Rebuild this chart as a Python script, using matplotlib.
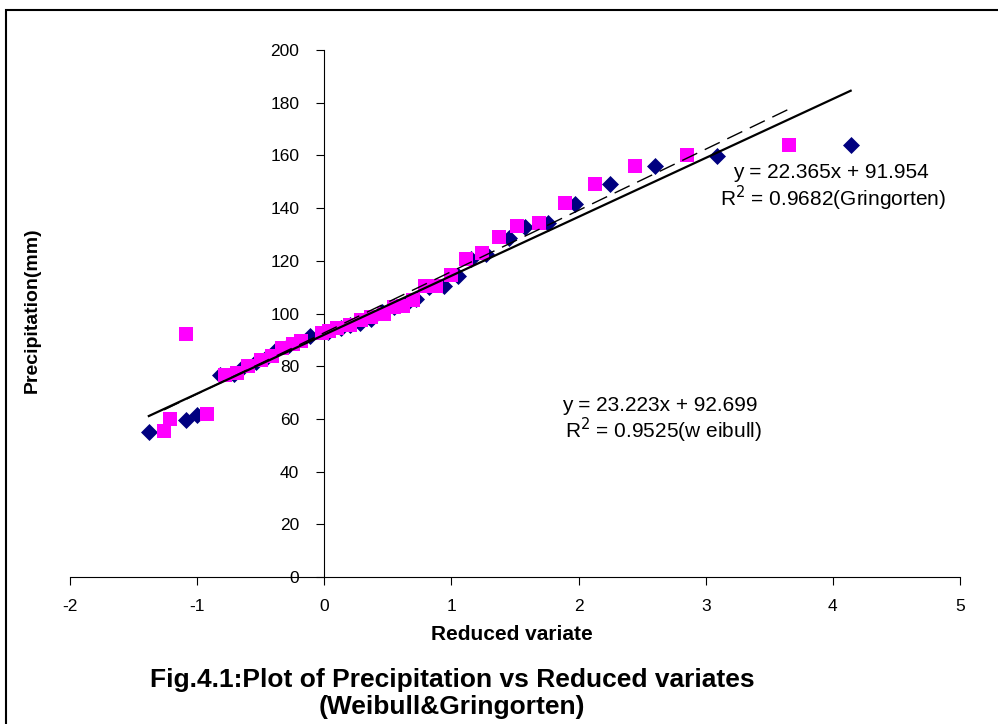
import matplotlib
matplotlib.use("Agg")
import matplotlib.pyplot as plt
from matplotlib.patches import Rectangle
import numpy as np

plt.rcParams['font.family'] = ['Liberation Sans', 'DejaVu Sans']
plt.rcParams['axes.unicode_minus'] = False

# reduced variate / precipitation pairs
x_diamond = [-1.38, -1.085, -1.0, -0.82, -0.71, -0.65, -0.54, -0.45, -0.37, -0.28,
             -0.11, 0.03, 0.13, 0.2, 0.28, 0.37, 0.45, 0.55, 0.64, 0.72,
             0.82, 0.94, 1.05, 1.15, 1.27, 1.455, 1.58, 1.76, 1.97, 2.25,
             2.6, 3.09, 4.14]
y_diamond = [55.0, 59.5, 61.5, 76.5, 77.0, 79.5, 81.5, 83.5, 86.5, 88.0,
             91.5, 93.0, 94.5, 95.5, 96.5, 98.0, 100.5, 102.5, 103.5, 105.5,
             110.0, 110.5, 114.2, 120.7, 122.6, 128.7, 132.8, 134.3, 141.6, 149.1,
             156.0, 159.8, 163.9]

x_square = [-1.26, -1.21, -0.92, -1.09, -0.78, -0.69, -0.6, -0.5, -0.41, -0.33,
            -0.25, -0.18, -0.02, 0.04, 0.1, 0.2, 0.29, 0.37, 0.47, 0.55,
            0.62, 0.7, 0.79, 0.88, 1.0, 1.117, 1.243, 1.376, 1.518, 1.69,
            1.895, 2.13, 2.446, 2.855, 3.657]
y_square = [55.4, 60.0, 62.0, 92.2, 76.5, 77.5, 80.0, 82.5, 84.0, 87.0,
            88.5, 89.5, 92.5, 93.5, 94.5, 95.5, 97.5, 98.5, 100.0, 102.5,
            103.0, 105.0, 110.5, 110.5, 114.6, 120.7, 123.0, 129.0, 133.2, 134.3,
            141.9, 149.1, 156.0, 160.2, 163.9]

# trend line coefficients (slope, intercept) as printed on the chart
fit_solid = (22.365, 91.954)
fit_dash = (23.223, 92.699)

fig = plt.figure(figsize=(9.98, 7.24), dpi=100)
ax = fig.add_axes([70/998, 1-577/724, (960-70)/998, (577-50)/724])

ax.scatter(x_diamond, y_diamond, marker='D', s=75, color='#000080', zorder=3, linewidths=0)
ax.scatter(x_square, y_square, marker='s', s=115, color='#FF00FF', zorder=4, linewidths=0)

xs = np.array([min(x_diamond), max(x_diamond)])
ax.plot(xs, fit_solid[0]*xs + fit_solid[1], color='black', lw=1.6, zorder=5)
xd = np.array([min(x_square), max(x_square)])
ax.plot(xd, fit_dash[0]*xd + fit_dash[1], color='black', lw=1, ls=(0, (12, 6)), zorder=5)

ax.set_xlim(-2, 5)
ax.set_ylim(0, 200)
ax.set_xticks(range(-2, 6))
ax.set_yticks(range(0, 201, 20))
ax.spines['left'].set_position(('data', 0))
ax.spines['top'].set_visible(False)
ax.spines['right'].set_visible(False)
ax.tick_params(direction='out', length=6, labelsize=12.5, color='black')
ax.tick_params(axis='y', pad=12)
ax.tick_params(axis='x', pad=10)

eq_font = 15
ax.text(3.217, 153.7, 'y = 22.365x + 91.954', fontsize=eq_font, va='center')
ax.text(3.115, 143.8, 'R$^2$ = 0.9682(Gringorten)', fontsize=eq_font, va='center')
ax.text(1.872, 64.9, 'y = 23.223x + 92.699', fontsize=eq_font, va='center')
ax.text(1.896, 55.8, 'R$^2$ = 0.9525(w eibull)', fontsize=eq_font, va='center')

fig.text(512/998, 1-635/724, 'Reduced variate', fontsize=15, fontweight='bold',
         ha='center', va='center')
fig.text(32/998, 1-310/724, 'Precipitation(mm)', fontsize=14, fontweight='bold',
         ha='center', va='center', rotation=90)
fig.text(452/998, 1-680/724, 'Fig.4.1:Plot of Precipitation vs Reduced variates',
         fontsize=19, fontweight='bold', ha='center', va='center')
fig.text(452/998, 1-707/724, '(Weibull&Gringorten)',
         fontsize=19, fontweight='bold', ha='center', va='center')

fig.patches.append(Rectangle((6/998, -0.1), 1.2, 1-10/724+0.1, transform=fig.transFigure,
                             fill=False, edgecolor='black', lw=1.5))

fig.savefig('out.png', dpi=100)
